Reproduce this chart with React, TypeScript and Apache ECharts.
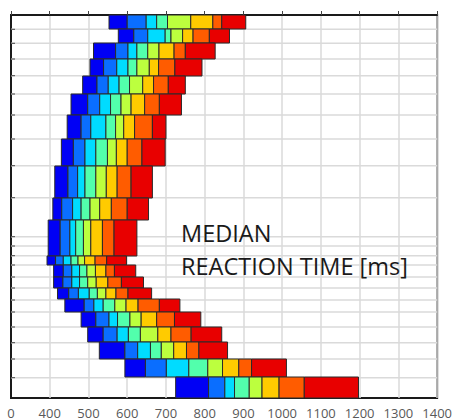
import React, { useEffect, useRef } from "react";
import * as echarts from "echarts";

// x axis (reaction time, ms)
const X_MIN = 300;
const X_MAX = 1400;
const X_STEP = 100;
const xTickLabels = ["0", "400", "500", "600", "700", "800", "900", "1000", "1100", "1200", "1300", "1400"];

// vertical position scale (0 = top of plot, 383 = bottom)
const Y_MAX = 383;
const yGridLines = [14.3, 28.3, 44, 60.7, 79, 100, 124, 150.7, 182.7, 221.7, 231, 240.7, 250, 262, 273, 285, 297, 312, 327.7, 344, 362.7];

// row extents
const rowTops = [0, 14, 28, 44, 61, 79, 100, 124, 151, 183, 205, 241, 250, 262, 273, 284, 297, 312, 327, 344, 362];
const rowBottoms = [14, 28, 44, 61, 79, 100, 124, 151, 183, 205, 241, 250, 262, 273, 284, 297, 312, 327, 344, 362, 383];

// segment boundaries per row (ms), top to bottom
const row01 = [553, 600, 649, 676, 704, 764, 821, 844, 906];
const row02 = [577, 617, 653, 698, 713, 743, 770, 812, 864];
const row03 = [513, 570, 602, 625, 653, 682, 721, 750, 827];
const row04 = [504, 539, 573, 602, 625, 657, 681, 723, 793];
const row05 = [485, 522, 551, 579, 606, 640, 668, 706, 750];
const row06 = [455, 498, 529, 557, 584, 610, 645, 683, 740];
const row07 = [445, 481, 506, 545, 570, 591, 619, 665, 700];
const row08 = [430, 461, 491, 519, 549, 572, 600, 638, 698];
const row09 = [413, 447, 472, 491, 519, 546, 574, 610, 665];
const row10 = [408, 431, 459, 481, 504, 529, 559, 600, 655];
const row11 = [396, 427, 452, 467, 487, 506, 536, 566, 625];
const row12 = [393, 415, 435, 455, 473, 490, 517, 547, 598];
const row13 = [410, 435, 457, 477, 496, 518, 545, 567, 622];
const row14 = [410, 434, 457, 477, 498, 520, 550, 585, 642];
const row15 = [420, 449, 474, 502, 523, 545, 571, 602, 663];
const row16 = [439, 489, 514, 538, 568, 597, 628, 683, 736];
const row17 = [481, 519, 553, 575, 607, 636, 676, 722, 790];
const row18 = [498, 538, 574, 603, 634, 679, 713, 765, 844];
const row19 = [528, 594, 627, 660, 688, 720, 753, 785, 859];
const row20 = [594, 647, 701, 759, 808, 846, 888, 921, 1011];
const row21 = [725, 810, 852, 877, 915, 948, 992, 1057, 1197];
const rows = [row01, row02, row03, row04, row05, row06, row07, row08, row09, row10, row11, row12, row13, row14, row15, row16, row17, row18, row19, row20, row21];

const segmentColors = ["#0000f5", "#0a6eff", "#00dcff", "#52ffac", "#bcff3e", "#ffcb00", "#ff5c00", "#e80000"];

const annotationLines = ["MEDIAN", "REACTION TIME [ms]"];

export default function App() {
  const ref = useRef<HTMLDivElement>(null);

  useEffect(() => {
    if (!ref.current) return;
    const chart = echarts.init(ref.current, null, { renderer: "svg" });

    const barData: number[][] = [];
    rows.forEach((edges, r) => {
      for (let s = 0; s < edges.length - 1; s++) {
        barData.push([edges[s], edges[s + 1], rowTops[r], rowBottoms[r], s]);
      }
    });

    const option: any = {
      animation: false,
      grid: {
        left: 11,
        right: 11,
        top: 15,
        bottom: 22,
        show: true,
        borderColor: "#1a1a1a",
        borderWidth: 2,
        backgroundColor: "transparent",
      },
      xAxis: {
        type: "value",
        min: X_MIN,
        max: X_MAX,
        interval: X_STEP,
        axisLine: { show: true, lineStyle: { color: "#1a1a1a", width: 2 } },
        axisTick: { show: true, inside: true, length: 4, lineStyle: { color: "#444", width: 1 } },
        splitLine: { show: true, lineStyle: { color: "#dadada", width: 1.5 } },
        axisLabel: {
          show: true,
          margin: 8,
          color: "#595959",
          fontSize: 13,
          lineHeight: 13,
          fontFamily: "Open Sans",
          showMinLabel: true,
          showMaxLabel: true,
          formatter: (v: number) => xTickLabels[Math.round((v - X_MIN) / X_STEP)] ?? "",
        },
      },
      yAxis: {
        type: "value",
        min: 0,
        max: Y_MAX,
        inverse: true,
        axisLine: { show: true, lineStyle: { color: "#1a1a1a", width: 2 } },
        axisTick: { show: false },
        axisLabel: { show: false },
        splitLine: { show: false },
      },
      series: [
        {
          type: "custom",
          z: 1,
          silent: true,
          data: yGridLines.map((y) => [X_MIN, y]),
          encode: { x: 0, y: 1 },
          renderItem: (params: any, api: any) => {
            const y = api.value(1);
            const a = api.coord([X_MIN, y]);
            const b = api.coord([X_MAX, y]);
            return {
              type: "group",
              children: [
                {
                  type: "line",
                  shape: { x1: a[0], y1: a[1], x2: b[0], y2: b[1] },
                  style: { stroke: "#dadada", lineWidth: 1.5 },
                },
                {
                  type: "line",
                  shape: { x1: a[0], y1: a[1], x2: a[0] + 4, y2: a[1] },
                  style: { stroke: "#444", lineWidth: 1 },
                },
              ],
            };
          },
        },
        {
          type: "custom",
          z: 3,
          data: barData,
          encode: { x: [0, 1], y: [2, 3] },
          renderItem: (params: any, api: any) => {
            const p0 = api.coord([api.value(0), api.value(2)]);
            const p1 = api.coord([api.value(1), api.value(3)]);
            return {
              type: "rect",
              shape: {
                x: p0[0],
                y: Math.min(p0[1], p1[1]),
                width: p1[0] - p0[0],
                height: Math.abs(p1[1] - p0[1]),
              },
              style: {
                fill: segmentColors[api.value(4)],
                stroke: "#2a2a2a",
                lineWidth: 1,
              },
            };
          },
        },
      ],
      graphic: annotationLines.map((t, i) => ({
        type: "text",
        x: 181,
        y: 233 + i * 33,
        z: 10,
        style: {
          text: t,
          font: '23.5px "Open Sans"',
          fill: "#1a1a1a",
          verticalAlign: "middle",
          align: "left",
        },
      })),
    };

    chart.setOption(option);
    return () => chart.dispose();
  }, []);

  return (
    <div
      ref={ref}
      style={{ position: "absolute", left: 0, top: 0, width: 455, height: 420, background: "#fff" }}
    />
  );
}
